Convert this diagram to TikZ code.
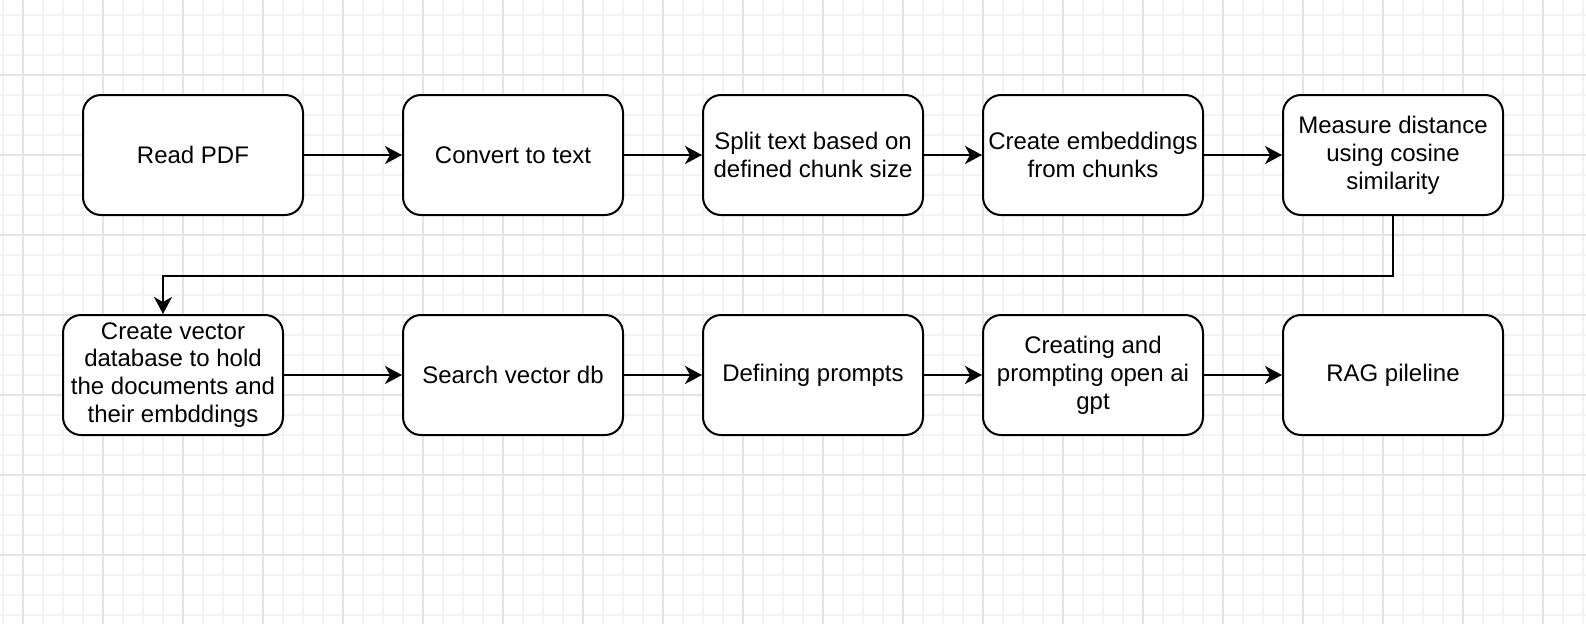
\documentclass[tikz,border=0pt]{standalone}
\usepackage{fontspec}
\setmainfont{Liberation Sans}
\usetikzlibrary{arrows.meta}
\definecolor{gridminor}{RGB}{243,243,243}
\definecolor{gridmajor}{RGB}{228,228,228}
\tikzset{
  stepbox/.style={draw=black, line width=2pt, rounded corners=18pt, fill=white,
    minimum width=220pt, minimum height=120pt, inner sep=0pt, align=center,
    font=\fontsize{24}{27.8}\selectfont},
  arr/.style={line width=2pt, -{Stealth[length=17pt,width=18pt,inset=5pt]}},
  elbow/.style={line width=2pt, rounded corners=0pt, -{Stealth[length=17pt,width=18pt,inset=5pt]}}
}
\begin{document}
\begin{tikzpicture}[x=1pt,y=-1pt]
\useasboundingbox (0,0) rectangle (1586,624);
\fill[white] (0,0) rectangle (1586,624);
% grid
\foreach \gx in {3,23,...,1583} \draw[gridminor, line width=1.5pt] (\gx,0) -- (\gx,624);
\foreach \gy in {15,35,...,615} \draw[gridminor, line width=1.5pt] (0,\gy) -- (1586,\gy);
\foreach \gx in {23,103,...,1583} \draw[gridmajor, line width=2pt] (\gx,0) -- (\gx,624);
\foreach \gy in {75,155,...,615} \draw[gridmajor, line width=2pt] (0,\gy) -- (1586,\gy);
% row 1
\node[stepbox] (A) at (193,155) {Read PDF};
\node[stepbox] (B) at (513,155) {Convert to text};
\node[stepbox] (C) at (813,155) {Split text based on\\defined chunk size};
\node[stepbox] (D) at (1093,155) {Create embeddings\\from chunks};
\node[stepbox] (E) at (1393,155) {Measure distance\\using cosine\\similarity};
% row 2
\node[stepbox] (F) at (173,375) {Create vector\\database to hold\\the documents and\\their embddings};
\node[stepbox] (G) at (513,375) {Search vector db};
\node[stepbox] (H) at (813,375) {Defining prompts};
\node[stepbox] (I) at (1093,375) {Creating and\\prompting open ai\\gpt};
\node[stepbox] (J) at (1393,375) {RAG pileline};
% connectors
\draw[arr] (A) -- (B);
\draw[arr] (B) -- (C);
\draw[arr] (C) -- (D);
\draw[arr] (D) -- (E);
\draw[elbow] (E.south) -- ++(0,60) -| ([xshift=-10pt]F.north);
\draw[arr] (F) -- (G);
\draw[arr] (G) -- (H);
\draw[arr] (H) -- (I);
\draw[arr] (I) -- (J);
\end{tikzpicture}
\end{document}
